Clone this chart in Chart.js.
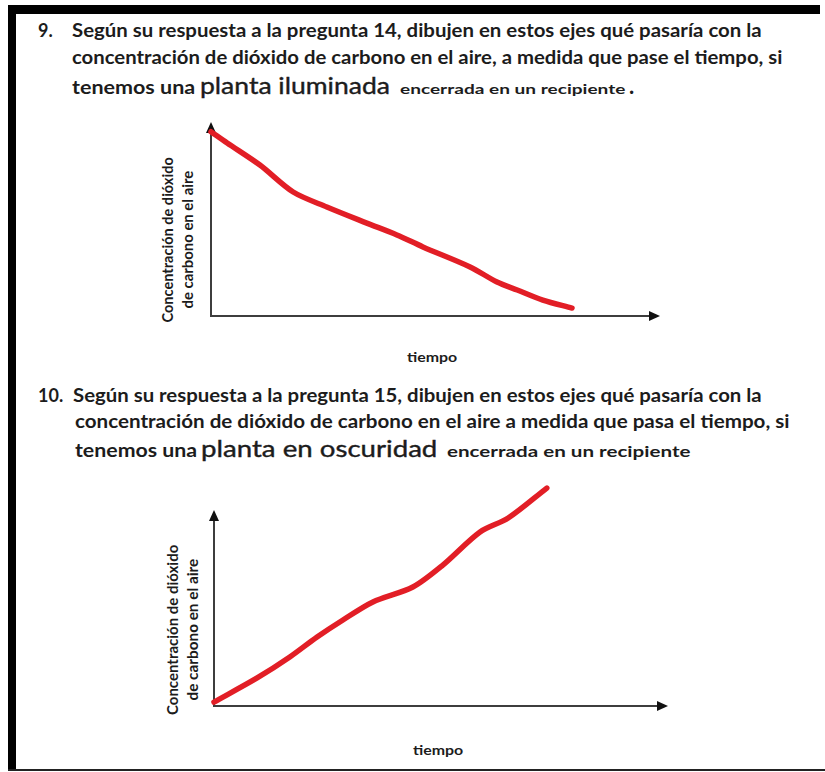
<!DOCTYPE html>
<html><head><meta charset="utf-8">
<script src="https://cdn.jsdelivr.net/npm/chart.js@4"></script>
<style>
html,body{margin:0;padding:0;background:#fff;}
body{width:825px;height:772px;position:relative;overflow:hidden;font-family:"Liberation Sans Narrow",Lato,"Open Sans",sans-serif;color:#1c1c1c;}
.abs{position:absolute;white-space:nowrap;}
.b{font-weight:700;}
.big{font-family:Lato,"Open Sans",sans-serif;font-weight:400;-webkit-text-stroke:0.4px #1c1c1c;}
.fit{display:inline-block;transform-origin:0 50%;white-space:nowrap;}
.row{position:absolute;display:flex;align-items:baseline;white-space:nowrap;}
.row>div{overflow:visible;}
.ytitle{position:absolute;font-weight:700;font-size:15px;line-height:20px;transform:rotate(-90deg);text-align:center;}
.ytitle div{width:100%;text-align:center;}
.ytitle .fit{transform-origin:50% 50%;}
canvas{position:absolute;}
</style></head><body>
<div class="abs" style="left:8px;top:5px;width:812px;height:9px;background:#000"></div>
<div class="abs" style="left:8px;top:5px;width:8px;height:766px;background:#000"></div>
<div class="abs" style="left:8px;top:769px;width:817px;height:2px;background:#222"></div>

<!-- Question 9 -->
<div class="abs b" style="left:38px;top:19px;font-size:18px;line-height:22px;">9.</div>
<div class="abs b" style="left:72px;top:19px;font-size:18px;line-height:22px;"><span class="fit" data-w="690">Según su respuesta a la pregunta 14, dibujen en estos ejes qué pasaría con la</span></div>
<div class="abs b" style="left:72px;top:46px;font-size:18px;line-height:22px;"><span class="fit" data-w="710">concentración de dióxido de carbono en el aire, a medida que pase el tiempo, si</span></div>
<div class="row" style="left:72px;top:70px;height:30px;">
  <div class="b" style="width:128px;font-size:18px;"><span class="fit" data-w="123">tenemos una</span></div>
  <div class="big" style="width:200px;font-size:24px;"><span class="fit" data-w="190">planta iluminada</span></div>
  <div class="b" style="width:229px;font-size:14px;"><span class="fit" data-w="226">encerrada en un recipiente</span></div>
  <div class="b" style="width:8px;font-size:22px;">.</div>
</div>

<!-- Question 10 -->
<div class="abs b" style="left:38px;top:384px;font-size:18px;line-height:22px;">10.</div>
<div class="abs b" style="left:73px;top:384px;font-size:18px;line-height:22px;"><span class="fit" data-w="689">Según su respuesta a la pregunta 15, dibujen en estos ejes qué pasaría con la</span></div>
<div class="abs b" style="left:75px;top:410px;font-size:18px;line-height:22px;"><span class="fit" data-w="715">concentración de dióxido de carbono en el aire a medida que pasa el tiempo, si</span></div>
<div class="row" style="left:75px;top:433px;height:30px;">
  <div class="b" style="width:126px;font-size:18px;"><span class="fit" data-w="122">tenemos una</span></div>
  <div class="big" style="width:246px;font-size:24px;"><span class="fit" data-w="236">planta en oscuridad</span></div>
  <div class="b" style="width:245px;font-size:15px;"><span class="fit" data-w="243">encerrada en un recipiente</span></div>
</div>

<!-- Axis titles -->
<div class="ytitle" style="left:92px;top:220px;width:170px;height:40px;">
  <div><span class="fit" data-w="165">Concentración de dióxido</span></div>
  <div><span class="fit" data-w="138">de carbono en el aire</span></div>
</div>
<div class="abs b" style="left:400px;top:348px;font-size:14px;line-height:18px;width:64px;text-align:center;"><span class="fit" data-w="50" style="transform-origin:50% 50%">tiempo</span></div>

<div class="ytitle" style="left:97px;top:610px;width:170px;height:40px;">
  <div><span class="fit" data-w="170">Concentración de dióxido</span></div>
  <div><span class="fit" data-w="142">de carbono en el aire</span></div>
</div>
<div class="abs b" style="left:406px;top:741px;font-size:14px;line-height:18px;width:64px;text-align:center;"><span class="fit" data-w="50" style="transform-origin:50% 50%">tiempo</span></div>

<canvas id="c1" width="530" height="260" style="left:150px;top:110px;width:530px;height:260px;"></canvas>
<canvas id="c2" width="550" height="290" style="left:150px;top:470px;width:550px;height:290px;"></canvas>

<script>
// ---- data (arbitrary units, axis spans 0..10) ----
const timeLight = [0, 0.36, 1.09, 1.83, 2.58, 3.47, 4.14, 4.72, 5.77, 6.37, 6.82, 7.39, 8.04];
const co2Light  = [9.5, 8.92, 7.78, 6.39, 5.62, 4.79, 4.18, 3.56, 2.53, 1.75, 1.34, 0.82, 0.41];
const timeDark  = [0, 0.95, 1.67, 2.27, 2.84, 3.5, 4.38, 5.04, 5.86, 6.48, 7.33];
const co2Dark   = [0.2, 1.43, 2.5, 3.52, 4.39, 5.31, 6.07, 7.19, 8.88, 9.59, 11.12];
const axisMin = 0, axisMax = 10;

function fitAll(){
  document.querySelectorAll('.fit').forEach(el=>{
    el.style.transform = 'none';
    const w = parseFloat(el.dataset.w);
    const ow = el.offsetWidth;
    if (w && ow) el.style.transform = 'scaleX(' + (w/ow) + ')';
  });
}

const arrowAxes = {
  id: 'arrowAxes',
  beforeDatasetsDraw(chart){
    const {ctx, scales:{x, y}} = chart;
    const x0 = x.getPixelForValue(axisMin), y0 = y.getPixelForValue(axisMin);
    const x1 = x.getPixelForValue(axisMax), y1 = y.getPixelForValue(axisMax);
    ctx.save();
    ctx.strokeStyle = '#3d3d3d';
    ctx.lineWidth = 2;
    ctx.beginPath();
    ctx.moveTo(x0, y0 + 1); ctx.lineTo(x0, y1 + 8);
    ctx.moveTo(x0 - 1, y0); ctx.lineTo(x1 - 8, y0);
    ctx.stroke();
    ctx.fillStyle = '#111';
    ctx.beginPath();
    ctx.moveTo(x0, y1); ctx.lineTo(x0 - 5, y1 + 11); ctx.lineTo(x0 + 5, y1 + 11); ctx.closePath(); ctx.fill();
    ctx.beginPath();
    ctx.moveTo(x1, y0); ctx.lineTo(x1 - 11, y0 - 5); ctx.lineTo(x1 - 11, y0 + 5); ctx.closePath(); ctx.fill();
    ctx.restore();
  }
};

function makeChart(id, xs, ys, padding){
  return new Chart(document.getElementById(id), {
    type: 'line',
    data: {
      datasets: [{
        data: xs.map((t, i) => ({x: t, y: ys[i]})),
        borderColor: 'rgb(226,30,38)',
        borderWidth: 5.5,
        borderCapStyle: 'round',
        borderJoinStyle: 'round',
        pointRadius: 0,
        tension: 0.3,
        fill: false,
        clip: false
      }]
    },
    options: {
      responsive: false,
      animation: false,
      devicePixelRatio: 1,
      layout: {padding},
      scales: {
        x: {type: 'linear', min: axisMin, max: axisMax, display: false},
        y: {type: 'linear', min: axisMin, max: axisMax, display: false}
      },
      plugins: {legend: {display: false}, tooltip: {enabled: false}}
    },
    plugins: [arrowAxes]
  });
}

makeChart('c1', timeLight, co2Light, {left: 61, right: 20, top: 12, bottom: 54});
makeChart('c2', timeDark, co2Dark, {left: 64, right: 32, top: 40, bottom: 54});

fitAll();
if (document.fonts && document.fonts.ready) document.fonts.ready.then(fitAll);
</script>
</body></html>
